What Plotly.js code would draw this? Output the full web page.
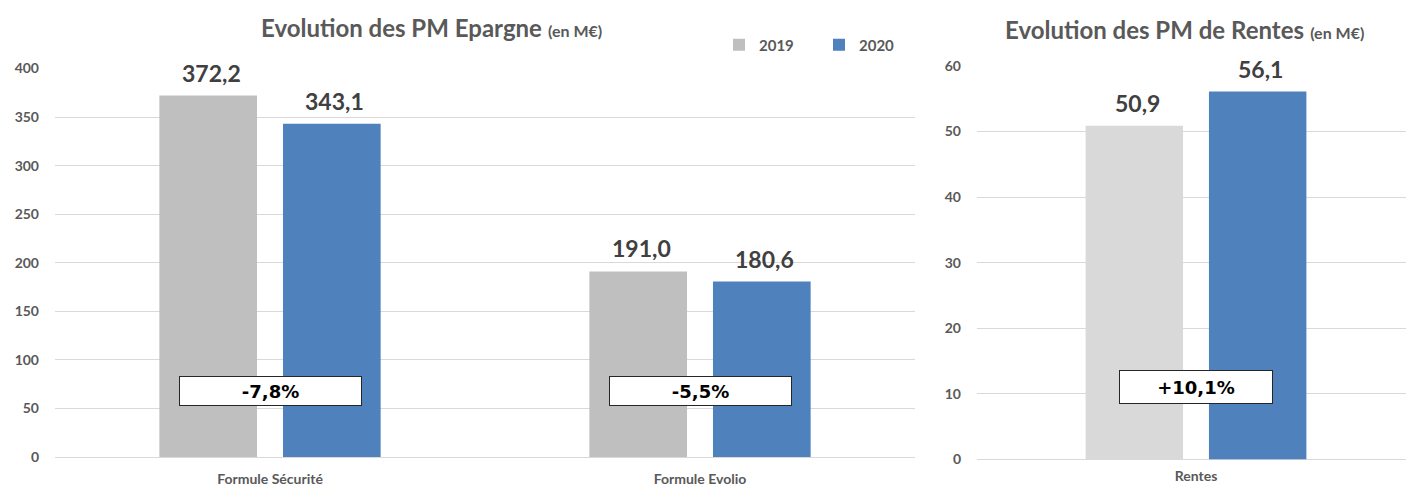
<!DOCTYPE html>
<html>
<head>
<meta charset="utf-8">
<script src="https://cdn.plot.ly/plotly-3.0.1.min.js"></script>
<style>html,body{margin:0;padding:0;background:#fff;}#chart{width:1406px;height:486px;}</style>
</head>
<body>
<div id="chart"></div>
<script>
// ---- data ----
const years = ['2019', '2020'];
const categoriesEpargne = ['Formule Sécurité', 'Formule Evolio'];
const epargne2019 = [372.2, 191.0];
const epargne2020 = [343.1, 180.6];
const evolutionEpargne = ['-7,8%', '-5,5%'];
const categoriesRentes = ['Rentes'];
const rentes2019 = [50.9];
const rentes2020 = [56.1];
const evolutionRentes = ['+10,1%'];
const titleEpargne = 'Evolution des PM Epargne';
const titleRentes = 'Evolution des PM de Rentes';
const titleUnit = '(en M€)';

// ---- styles ----
const GREY = '#BFBFBF', GREY_LIGHT = '#D9D9D9', BLUE = '#4F81BD';
const FONT = 'Lato, "Open Sans", sans-serif';
const fmt = v => v.toFixed(1).replace('.', ',');

const traces = [
  {type:'bar', name: years[0], x: categoriesEpargne, y: epargne2019, marker:{color: GREY}, xaxis:'x', yaxis:'y', hoverinfo:'none'},
  {type:'bar', name: years[1], x: categoriesEpargne, y: epargne2020, marker:{color: BLUE}, xaxis:'x', yaxis:'y', hoverinfo:'none'},
  {type:'bar', name: years[0], x: categoriesRentes, y: rentes2019, marker:{color: GREY_LIGHT}, xaxis:'x2', yaxis:'y2', showlegend:false, hoverinfo:'none'},
  {type:'bar', name: years[1], x: categoriesRentes, y: rentes2020, marker:{color: BLUE}, xaxis:'x2', yaxis:'y2', showlegend:false, hoverinfo:'none'}
];

const annotations = [];
function valueLabels(cats, vals, xr, yr, shift) {
  cats.forEach((c, i) => annotations.push({
    xref: xr, yref: yr, x: c, y: vals[i], text: fmt(vals[i]), showarrow: false,
    xshift: shift, yshift: 23, yanchor: 'middle', xanchor: 'center',
    font: {family: FONT, size: 23, color: '#404040', weight: 'bold'}
  }));
}
valueLabels(categoriesEpargne, epargne2019, 'x', 'y', -59);
valueLabels(categoriesEpargne, epargne2020, 'x', 'y', 64);
valueLabels(categoriesRentes, rentes2019, 'x2', 'y2', -59);
valueLabels(categoriesRentes, rentes2020, 'x2', 'y2', 64);

function evolBoxes(cats, labels, xr, yr, yPos, w, h) {
  cats.forEach((c, i) => annotations.push({
    xref: xr, yref: yr, x: c, y: yPos, text: labels[i], showarrow: false,
    xanchor: 'center', yanchor: 'middle', width: w, height: h,
    bgcolor: '#FFFFFF', bordercolor: '#262626', borderwidth: 1, borderpad: 0,
    font: {family: '"DejaVu Sans", Verdana, sans-serif', size: 18, color: '#000000', weight: 'bold'}
  }));
}
evolBoxes(categoriesEpargne, evolutionEpargne, 'x', 'y', 67.5, 181, 28);
evolBoxes(categoriesRentes, evolutionRentes, 'x2', 'y2', 11.1, 152, 32);

annotations.push({
  xref:'paper', yref:'paper', x: 431/1406, y: 1 - 27/486, xanchor:'center', yanchor:'middle', showarrow:false,
  text: '<b>' + titleEpargne + '</b> <b><span style="font-size:16px">' + titleUnit + '</span></b>',
  font: {family: FONT, size: 24, color: '#595959'}
});
annotations.push({
  xref:'paper', yref:'paper', x: 1184/1406, y: 1 - 29/486, xanchor:'center', yanchor:'middle', showarrow:false,
  text: '<b>' + titleRentes + '</b> <b><span style="font-size:16px">' + titleUnit + '</span></b>',
  font: {family: FONT, size: 24, color: '#595959'}
});

const tickFont = {family: FONT, size: 14, color: '#595959', weight: 'bold'};
const xCommon = {type:'category', showgrid:false, showline:false, zeroline:false, ticks:'',
  tickfont: tickFont, ticklabelstandoff: 12, fixedrange:true};
const yCommon = {showgrid:true, gridcolor:'#D9D9D9', gridwidth:1, zeroline:true, zerolinecolor:'#D9D9D9',
  zerolinewidth:1, showline:false, ticks:'', tickfont: tickFont, ticklabelstandoff: 15, fixedrange:true};

const layout = {
  width: 1406, height: 486,
  margin: {l:0, r:0, t:0, b:0, pad:0},
  paper_bgcolor:'#FFFFFF', plot_bgcolor:'#FFFFFF',
  barmode:'group', bargap:0.425, bargroupgap:0.21,
  showlegend:true,
  legend: {orientation:'h', x: 719/1406, y: 1 - 45/486, xanchor:'left', yanchor:'middle',
    entrywidth: 55, entrywidthmode:'pixels', itemwidth:30, bgcolor:'rgba(0,0,0,0)',
    font: {family: FONT, size: 15, color:'#595959', weight:'bold'}, traceorder:'normal'},
  xaxis: Object.assign({}, xCommon, {domain:[55/1406, 915/1406], anchor:'y'}),
  yaxis: Object.assign({}, yCommon, {domain:[(486-457)/486, (486-68.5)/486], range:[0,400], dtick:50, anchor:'x'}),
  xaxis2: Object.assign({}, xCommon, {domain:[977/1406, 1], anchor:'y2', range:[-0.5105, 0.4895], ticklabelstandoff: 6}),
  yaxis2: Object.assign({}, yCommon, {domain:[(486-459.5)/486, (486-66)/486], range:[0,60], dtick:10, anchor:'x2'}),
  annotations: annotations
};

Plotly.newPlot('chart', traces, layout, {displayModeBar:false, staticPlot:true});
</script>
</body>
</html>
